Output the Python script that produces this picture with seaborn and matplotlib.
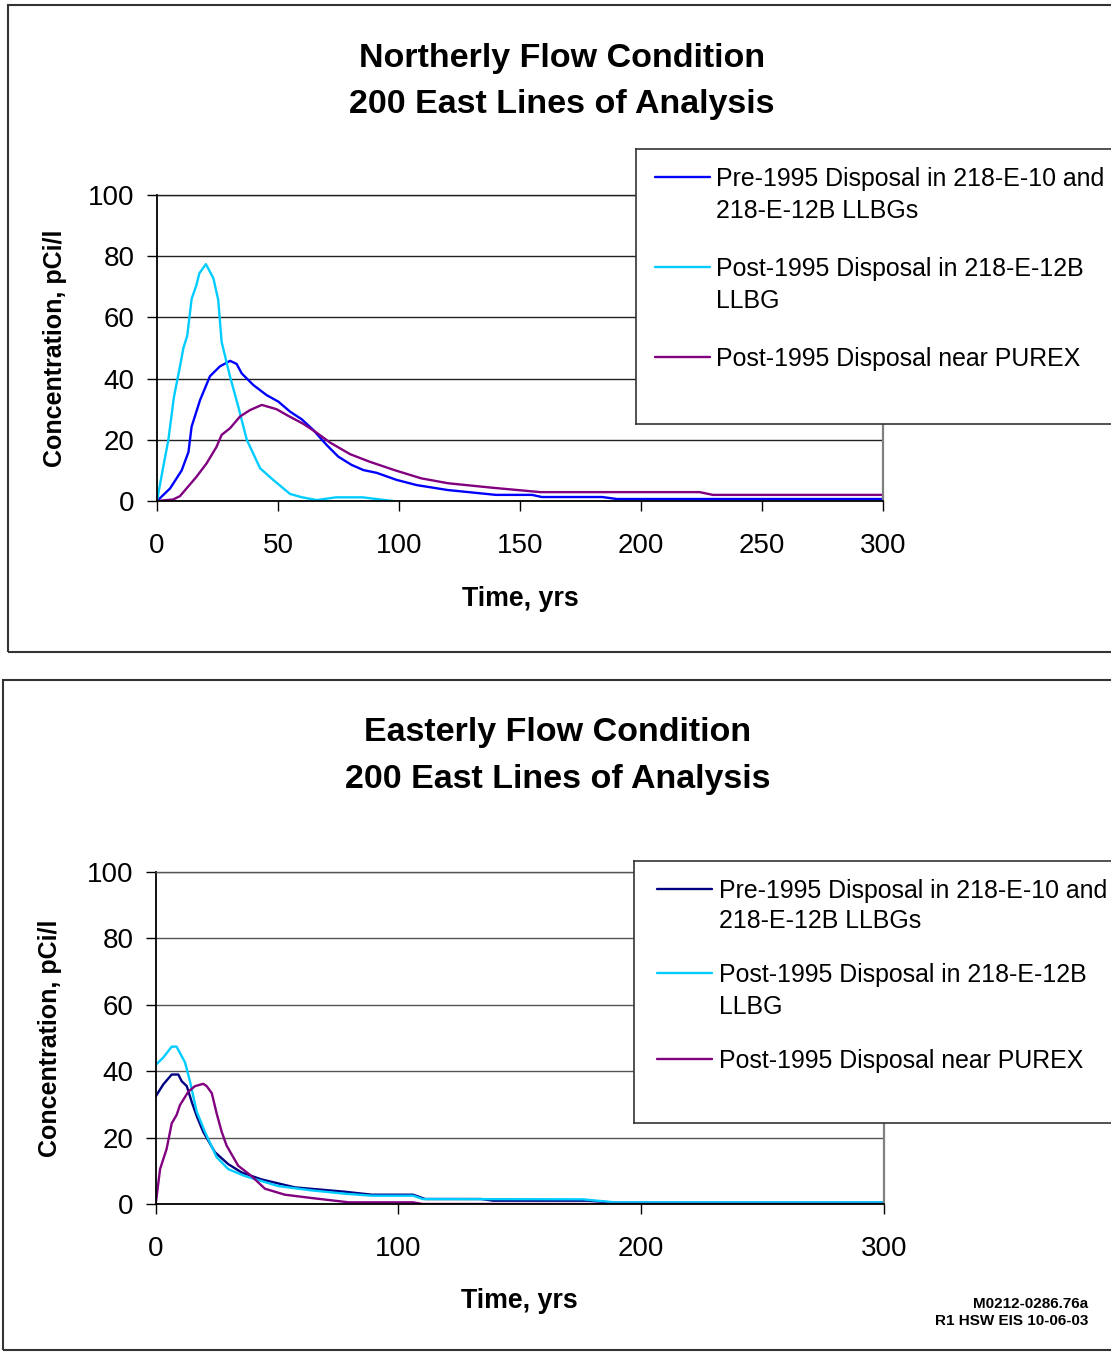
import matplotlib.pyplot as plt
import seaborn as sns
from matplotlib.patches import Rectangle

# --- Northerly flow condition ---
north_pre_t = [0, 5.4, 10.2, 13, 14.3, 17.8, 21.9, 26, 30.2, 32.9, 35, 39.8, 45.3, 50.1, 55, 59.8,
               64.6, 70.1, 74.9, 80.4, 85.3, 90.8, 99, 107.3, 120, 140, 155, 159, 184, 190, 300]
north_pre_c = [0, 4.1, 10, 16, 24.3, 33, 40.8, 44, 45.8, 44.8, 41.7, 37.9, 34.6, 32.5, 29.2, 26.7,
               23.2, 18.3, 14.5, 11.8, 10.1, 9.2, 6.9, 5.2, 3.6, 2.0, 2.0, 1.3, 1.3, 0.65, 0.65]

north_post_t = [0, 2.3, 4.7, 7, 9.5, 10.9, 12.5, 14.3, 16.3, 17.5, 20.2, 23.3, 25.3, 26.7, 30.2,
                33.6, 37.1, 42.6, 48, 55, 60, 66, 74, 85, 89, 97.5]
north_post_c = [0, 10, 20, 34, 44, 50, 54, 66, 70.6, 74.4, 77.4, 72.8, 65.7, 52, 40.6,
                30.8, 20, 10.7, 6.9, 2.3, 1.2, 0.3, 1.2, 1.2, 0.8, 0]

north_purex_t = [0, 6.7, 9.5, 12.2, 16.3, 20.5, 24.6, 26.7, 30.2, 34.3, 38.4, 43.3, 49.4, 54.3,
                 60.5, 66, 71.5, 79.8, 88, 98.1, 109.2, 120.3, 137.7, 158.4, 224.2, 229.7, 300]
north_purex_c = [0, 0.5, 1.6, 4.1, 7.9, 12.3, 17.7, 21.6, 23.8, 27.6, 29.7, 31.4, 30, 27.8,
                 25.2, 22.3, 19.1, 15.3, 12.8, 10.1, 7.4, 5.8, 4.4, 2.9, 2.9, 2.0, 2.0]

# --- Easterly flow condition ---
east_pre_t = [0, 3.1, 6.6, 9.3, 10.7, 12.8, 15, 17, 19.6, 24.4, 29.9, 35.4, 43.6, 57.4, 77.9,
              89, 106, 111, 134, 139, 178, 189, 300]
east_pre_c = [32.4, 36, 39, 39, 37, 35.5, 30.4, 26.3, 21.7, 15.6, 12, 9.5, 7.4, 5.0, 3.7,
              2.8, 2.8, 1.5, 1.5, 1.0, 1.0, 0.4, 0.4]

east_post_t = [0, 3.1, 6.6, 8.6, 12.1, 14.1, 16.9, 20.3, 25.1, 29.9, 36.8, 50.5, 64.2, 77.9,
               89, 106, 110, 176, 189, 300]
east_post_c = [41.9, 44.1, 47.4, 47.4, 42.6, 37, 27.8, 21.7, 14.1, 10.5, 8.4, 5.4, 4.1, 3.1,
               2.5, 2.5, 1.5, 1.4, 0.5, 0.5]

east_purex_t = [0, 1.8, 4.5, 6.6, 8.6, 10, 13.5, 16.2, 19.6, 21, 23.1, 25.1, 27.2, 29.2, 34,
                39.5, 45, 53.2, 64.2, 79.6, 106, 110, 300]
east_purex_c = [0, 10.5, 16.6, 24.3, 26.8, 29.8, 33.9, 35.5, 36.2, 35.5, 33.4, 27.3, 21.7, 17.6,
                11.5, 8.4, 4.6, 2.8, 1.8, 0.5, 0.5, 0, 0]

legend_labels = [["Pre-1995 Disposal in 218-E-10 and", "218-E-12B LLBGs"],
                 ["Post-1995 Disposal in 218-E-12B", "LLBG"],
                 ["Post-1995 Disposal near PUREX"]]
yticks = [0, 20, 40, 60, 80, 100]

sns.set_theme(style="white")
plt.rcParams['font.family'] = ['Liberation Sans', 'DejaVu Sans']
plt.rcParams['text.color'] = 'black'
plt.rcParams['xtick.color'] = 'black'
plt.rcParams['ytick.color'] = 'black'

W, H = 1111, 1352
fig = plt.figure(figsize=(W / 100, H / 100), dpi=100)


def fx(px):
    return px / W


def fy(py):
    return 1 - py / H


# outer chart frames (they run off the right edge)
for x0, y0, y1 in [(8, 5, 652), (3, 680, 1350)]:
    fig.patches.append(Rectangle((fx(x0), fy(y1)), 1.2, fy(y0) - fy(y1), transform=fig.transFigure,
                                 fill=False, ec='#333333', lw=1.5))


def panel(rect, series, xticks, titles, title_x, title_ys, ylab_x, xlab_y, leg, grid_col):
    l, t, r, b = rect
    ax = fig.add_axes([fx(l), fy(b), fx(r) - fx(l), fy(t) - fy(b)])
    for tt, cc, col in series:
        sns.lineplot(x=tt, y=cc, ax=ax, color=col, lw=1.7, legend=False)
    ax.set_xlim(0, 300)
    ax.set_ylim(0, 100)
    ax.set_xticks(xticks)
    ax.set_yticks(yticks)
    ax.yaxis.grid(True, color=grid_col, lw=1.0)
    ax.set_axisbelow(True)
    ax.tick_params(axis='both', which='major', direction='out', length=7, width=1,
                   color='black', labelsize=20, labelcolor='black')
    ax.tick_params(axis='x', pad=16)
    ax.tick_params(axis='y', pad=9)
    ax.tick_params(left=True, bottom=True)
    for s in ['left', 'bottom']:
        ax.spines[s].set_color('black')
        ax.spines[s].set_linewidth(1.3)
    ax.spines['top'].set_color(grid_col)
    ax.spines['top'].set_linewidth(1.0)
    ax.spines['right'].set_color('#808080')
    ax.spines['right'].set_linewidth(1.6)
    ax.set_xlabel('')
    ax.set_ylabel('')
    fig.text(fx((l + r) / 2), fy(xlab_y), 'Time, yrs', ha='center', va='center',
             fontsize=19.3, fontweight='bold', color='black')
    fig.text(fx(ylab_x), fy((t + b) / 2), 'Concentration, pCi/l', rotation=90,
             ha='center', va='center', fontsize=18, fontweight='bold', color='black')
    for txt, yy in zip(titles, title_ys):
        fig.text(fx(title_x), fy(yy), txt, ha='center', va='center', fontsize=24.5,
                 fontweight='bold', color='black')

    # legend box
    lx0, ly0, ly1, key_x0, key_x1, text_x, rows = leg
    lax = fig.add_axes([fx(lx0), fy(ly1), 1.05 - fx(lx0), fy(ly0) - fy(ly1)], zorder=5)
    lax.set_xlim(lx0, lx0 + (1.05 - fx(lx0)) * W)
    lax.set_ylim(ly1, ly0)
    lax.set_facecolor('white')
    lax.set_xticks([])
    lax.set_yticks([])
    for s in lax.spines.values():
        s.set_color('#333333')
        s.set_linewidth(1.2)
    for (tt, cc, col), lab, row in zip(series, legend_labels, rows):
        lax.plot([key_x0, key_x1], [row[0], row[0]], color=col, lw=1.7)
        for line, yy in zip(lab, row):
            lax.text(text_x, yy + 2, line, ha='left', va='center', fontsize=17.9, color='black')
    return ax


panel((157, 195, 883, 501),
      [(north_pre_t, north_pre_c, '#0000FF'),
       (north_post_t, north_post_c, '#00CCFF'),
       (north_purex_t, north_purex_c, '#800080')],
      [0, 50, 100, 150, 200, 250, 300],
      ['Northerly Flow Condition', '200 East Lines of Analysis'], 562, [58, 104],
      55, 599, (636, 149, 424, 655, 710, 716, [(177, 209), (267, 299), (357,)]), '#222222')

panel((155.7, 872, 884, 1204),
      [(east_pre_t, east_pre_c, '#000080'),
       (east_post_t, east_post_c, '#00CCFF'),
       (east_purex_t, east_purex_c, '#800080')],
      [0, 100, 200, 300],
      ['Easterly Flow Condition', '200 East Lines of Analysis'], 558, [733, 780],
      50, 1301, (634, 861, 1123, 657, 712, 719, [(889, 919), (973, 1005), (1059,)]), '#555555')

fig.text(fx(1088), fy(1304), 'M0212-0286.76a', ha='right', va='center', fontsize=11,
         fontweight='bold', color='black')
fig.text(fx(1088), fy(1321), 'R1 HSW EIS 10-06-03', ha='right', va='center', fontsize=11,
         fontweight='bold', color='black')

fig.savefig('out.png', dpi=100, facecolor='white')
